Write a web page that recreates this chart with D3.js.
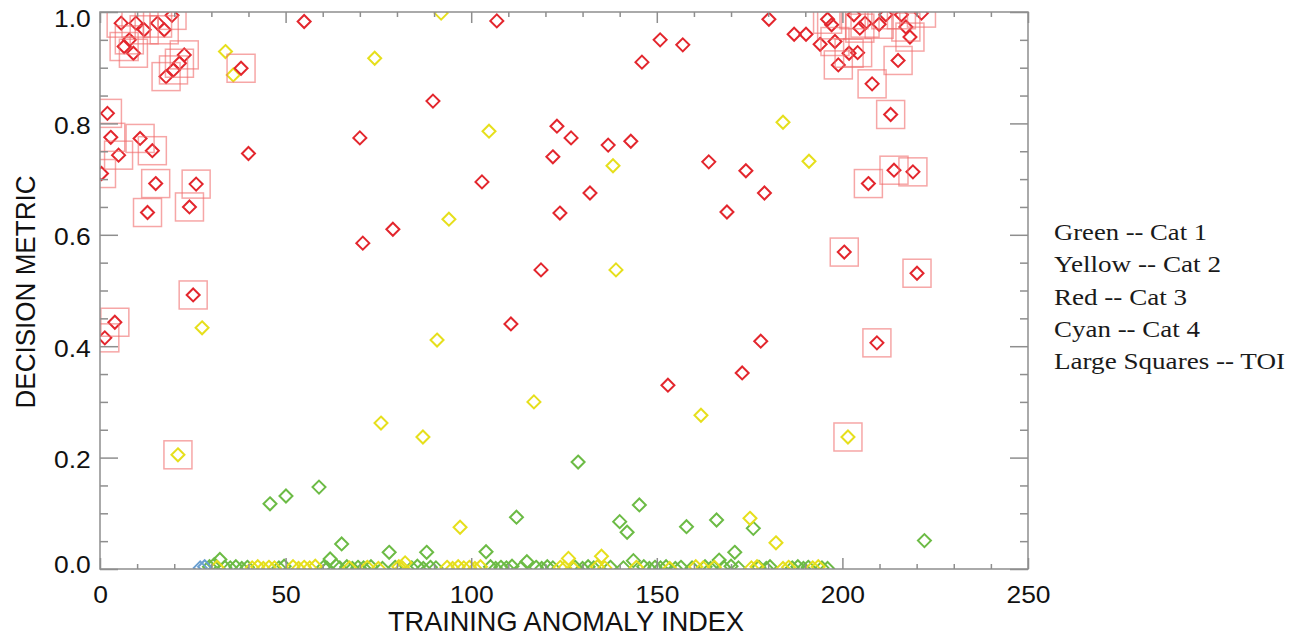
<!DOCTYPE html>
<html>
<head>
<meta charset="utf-8">
<script src="https://cdn.jsdelivr.net/npm/d3@7"></script>
<style>
  body { margin: 0; background: #fff; }
  svg { display: block; }
</style>
</head>
<body>
<svg id="chart" width="1299" height="639"></svg>
<script>
// Decision metric per training anomaly: [index, metric, isTOI]
const cat1Points = [ // Green -- Cat 1
  [32.3,0.017],[45.8,0.117],[50.1,0.131],[59.0,0.147],[62.0,0.018],[65.1,0.045],
  [77.9,0.030],[88.0,0.030],[104.0,0.031],[112.2,0.093],[115.0,0.013],[128.8,0.192],
  [140.0,0.085],[142.0,0.066],[143.7,0.015],[145.3,0.115],[158.0,0.076],[166.1,0.088],
  [166.8,0.016],[171.0,0.030],[176.0,0.073],[222.1,0.051],
  [29.5,0.004],[30.8,0.008],[33.6,0.003],[35.1,0.002],[36.6,0.004],[38.2,0.001],
  [39.7,0.003],[48.2,0.002],[49.6,0.005],[60.2,0.003],[61.2,0.001],[63.6,0.006],
  [64.6,0.002],[66.5,0.004],[68.0,0.001],[69.5,0.003],[71.0,0.002],[73.0,0.004],
  [76.1,0.001],[79.5,0.003],[84.0,0.002],[85.5,0.005],[87.1,0.001],[89.0,0.003],
  [90.5,0.002],[105.2,0.004],[106.6,0.001],[108.0,0.003],[109.5,0.002],[111.0,0.005],
  [113.5,0.002],[117.5,0.003],[119.0,0.001],[120.5,0.004],[122.0,0.002],[128.0,0.003],
  [130.0,0.001],[131.5,0.004],[133.0,0.002],[137.5,0.003],[141.0,0.002],[146.5,0.004],
  [148.0,0.001],[149.5,0.003],[151.0,0.002],[152.5,0.004],[155.0,0.001],[156.5,0.003],
  [159.5,0.002],[163.0,0.004],[164.5,0.001],[168.0,0.003],[170.0,0.005],[172.0,0.002],
  [177.5,0.003],[179.5,0.001],[180.5,0.004],[186.5,0.002],[188.0,0.004],[189.5,0.001],
  [190.8,0.003],[194.5,0.002],[196.0,0.001]
];

const cat2Points = [ // Yellow -- Cat 2
  [21.0,0.205,1],[27.5,0.433],[33.8,0.929],[35.9,0.887],[74.0,0.917],[75.7,0.262],
  [82.2,0.011],[87.0,0.237],[90.8,0.411],[91.9,0.998],[94.0,0.628],[97.0,0.075],
  [104.8,0.786],[116.9,0.300],[126.2,0.019],[135.1,0.023],[138.2,0.724],[139.0,0.537],
  [161.9,0.276],[175.1,0.091],[182.1,0.047],[184.0,0.802],[191.0,0.732],[201.5,0.237,1],
  [31.5,0.003],[41.0,0.002],[42.5,0.004],[44.0,0.001],[45.5,0.003],[47.0,0.002],
  [52.0,0.004],[53.5,0.001],[55.0,0.003],[56.5,0.002],[58.0,0.005],[67.2,0.002],
  [72.0,0.003],[75.0,0.001],[80.5,0.004],[81.5,0.002],[93.5,0.003],[95.0,0.001],
  [96.5,0.004],[98.0,0.002],[99.5,0.003],[101.0,0.001],[102.5,0.004],[124.0,0.003],
  [125.2,0.002],[127.5,0.001],[134.0,0.004],[136.0,0.002],[144.5,0.003],[153.5,0.001],
  [160.5,0.004],[162.5,0.002],[165.5,0.003],[175.5,0.002],[177.0,0.004],[184.0,0.001],
  [185.5,0.003],[192.0,0.002],[193.5,0.004]
];

const cat3Points = [ // Red -- Cat 3
  [0.4,0.710,1],[1.3,0.415,1],[2.0,0.818,1],[2.9,0.775,1],[4.0,0.443,1],[5.0,0.743,1],
  [5.7,0.980,1],[6.5,0.938,1],[7.9,0.950,1],[9.0,0.926,1],[9.7,0.980,1],[10.8,0.773,1],
  [11.9,0.968,1],[12.8,0.640,1],[14.1,0.751,1],[15.0,0.692,1],[15.5,0.980,1],[17.3,0.968,1],
  [17.8,0.884,1],[19.4,0.994,1],[19.8,0.896,1],[21.4,0.908,1],[22.7,0.923,1],[24.1,0.650,1],
  [25.1,0.492,1],[25.9,0.691,1],[38.0,0.899,1],
  [40.0,0.746],[55.0,0.983],[70.0,0.774],[70.8,0.585],[78.9,0.610],[89.7,0.840],
  [102.9,0.695],[106.9,0.984],[110.7,0.440],[118.8,0.537],[122.0,0.740],[123.1,0.795],
  [123.9,0.639],[126.9,0.774],[132.0,0.675],[136.9,0.761],[143.0,0.768],[146.0,0.910],
  [150.9,0.950],[153.0,0.330],[157.0,0.941],[164.0,0.731],[168.9,0.641],[173.0,0.352],
  [174.0,0.715],[178.0,0.409],[179.0,0.675],[180.2,0.987],[187.0,0.960],[190.2,0.960],
  [194.0,0.942],
  [196.0,0.987,1],[197.1,0.977,1],[198.0,0.947,1],[198.9,0.905,1],[200.5,0.569,1],
  [201.8,0.926,1],[203.1,0.995,1],[204.1,0.927,1],[204.7,0.971,1],[206.1,0.980,1],
  [207.0,0.692,1],[208.0,0.871,1],[209.3,0.406,1],[209.9,0.978,1],[211.7,0.995,1],
  [213.0,0.816,1],[213.9,0.716,1],[215.0,0.913,1],[215.9,0.995,1],[217.1,0.973,1],
  [218.2,0.955,1],[219.0,0.713,1],[220.1,0.531,1],[221.3,0.998,1]
];

const cat4Points = [ // Cyan -- Cat 4
  [27.0,0.002],[28.2,0.004]
];

const xMajorTicks = [0, 50, 100, 150, 200, 250];
const yMajorTicks = [0, 0.2, 0.4, 0.6, 0.8, 1.0];
const legendLines = ["Green -- Cat 1", "Yellow -- Cat 2", "Red -- Cat 3", "Cyan -- Cat 4", "Large Squares -- TOI"];

const svg = d3.select("#chart");
const plotL = 100, plotR = 1028, plotT = 12, plotB = 569;
const x = d3.scaleLinear([0, 250], [plotL, plotR]);
const y = d3.scaleLinear([0, 1], [plotB, plotT]);

const AXIS = "#8e8e8e";

svg.append("defs").append("clipPath").attr("id", "plotClip")
  .append("rect").attr("x", plotL).attr("y", plotT)
  .attr("width", plotR - plotL).attr("height", plotB - plotT);

// diamond marker outline
const R = 6.5;
const diamond = (() => {
  const p = d3.path();
  p.moveTo(0, -R); p.lineTo(R, 0); p.lineTo(0, R); p.lineTo(-R, 0); p.closePath();
  return p.toString();
})();

const series = [
  { pts: cat1Points, color: "#6cbb45" },
  { pts: cat2Points, color: "#e6df1c" },
  { pts: cat3Points, color: "#e3262d" },
  { pts: cat4Points, color: "#6a9fd0" }
];

const plot = svg.append("g").attr("clip-path", "url(#plotClip)");

series.forEach(s => {
  plot.append("g").selectAll("path").data(s.pts).join("path")
    .attr("d", diamond)
    .attr("transform", d => `translate(${x(d[0])},${y(d[1])})`)
    .attr("fill", "none")
    .attr("stroke", s.color)
    .attr("stroke-width", 2);
});

// large squares round targets of interest
const toi = series.flatMap(s => s.pts.filter(d => d[2] === 1));
const S = 28;
plot.append("g").selectAll("rect").data(toi).join("rect")
  .attr("x", d => x(d[0]) - S / 2)
  .attr("y", d => y(d[1]) - S / 2)
  .attr("width", S).attr("height", S)
  .attr("fill", "none")
  .attr("stroke", "#f06a6a")
  .attr("stroke-opacity", 0.6)
  .attr("stroke-width", 1.5);

// axes
const xMinor = d3.range(10, 250, 10).filter(v => v % 50 !== 0);
const yMinor = d3.range(1, 20).map(v => v * 0.05).filter((v, i) => (i + 1) % 4 !== 0);

function styleAxis(g) {
  g.select(".domain").remove();
  g.selectAll(".tick line").attr("stroke", AXIS).attr("stroke-width", 1.5);
}

const axes = svg.append("g");

axes.append("g").attr("transform", `translate(0,${plotB})`)
  .call(d3.axisBottom(x).tickValues(xMajorTicks).tickSize(-11).tickFormat(d3.format("d")))
  .call(styleAxis)
  .call(g => g.selectAll("text")
    .attr("y", 34).attr("dy", null)
    .attr("font-family", "Liberation Sans, Arial, sans-serif")
    .attr("font-size", 23).attr("fill", "#111")
    .attr("transform", "scale(1.15,1)"));
axes.append("g").attr("transform", `translate(0,${plotB})`)
  .call(d3.axisBottom(x).tickValues(xMinor).tickSize(-5).tickFormat(""))
  .call(styleAxis);
axes.append("g").attr("transform", `translate(0,${plotT})`)
  .call(d3.axisTop(x).tickValues(xMajorTicks).tickSize(-11).tickFormat(""))
  .call(styleAxis);
axes.append("g").attr("transform", `translate(0,${plotT})`)
  .call(d3.axisTop(x).tickValues(xMinor).tickSize(-5).tickFormat(""))
  .call(styleAxis);

axes.append("g").attr("transform", `translate(${plotL},0)`)
  .call(d3.axisLeft(y).tickValues(yMajorTicks).tickSize(-18).tickFormat(d3.format(".1f")).tickPadding(8))
  .call(styleAxis)
  .call(g => g.selectAll("text")
    .attr("x", -8)
    .attr("y", d => d === 0 ? -6 : (d === 1 ? 5 : 0))
    .attr("dy", "0.43em")
    .attr("font-family", "Liberation Sans, Arial, sans-serif")
    .attr("font-size", 23).attr("fill", "#111")
    .attr("transform", "scale(1.15,1)"));
axes.append("g").attr("transform", `translate(${plotL},0)`)
  .call(d3.axisLeft(y).tickValues(yMinor).tickSize(-8).tickFormat(""))
  .call(styleAxis);
axes.append("g").attr("transform", `translate(${plotR},0)`)
  .call(d3.axisRight(y).tickValues(yMajorTicks).tickSize(-18).tickFormat(""))
  .call(styleAxis);
axes.append("g").attr("transform", `translate(${plotR},0)`)
  .call(d3.axisRight(y).tickValues(yMinor).tickSize(-8).tickFormat(""))
  .call(styleAxis);

// frame
axes.append("rect")
  .attr("x", plotL).attr("y", plotT)
  .attr("width", plotR - plotL).attr("height", plotB - plotT)
  .attr("fill", "none").attr("stroke", AXIS).attr("stroke-width", 1.5);

// axis titles
svg.append("text")
  .attr("x", 566).attr("y", 631)
  .attr("text-anchor", "middle")
  .attr("font-family", "Liberation Sans, Arial, sans-serif")
  .attr("font-size", 27).attr("fill", "#111")
  .attr("textLength", 356).attr("lengthAdjust", "spacingAndGlyphs")
  .text("TRAINING ANOMALY INDEX");

svg.append("text")
  .attr("transform", "translate(35,292) rotate(-90)")
  .attr("text-anchor", "middle")
  .attr("font-family", "Liberation Sans, Arial, sans-serif")
  .attr("font-size", 27).attr("fill", "#111")
  .attr("textLength", 233).attr("lengthAdjust", "spacingAndGlyphs")
  .text("DECISION METRIC");

// legend text
const legendWidths = [153, 167, 133, 146, 231];
svg.append("g").selectAll("text").data(legendLines).join("text")
  .attr("x", 1054)
  .attr("y", (d, i) => 240 + i * 32.3)
  .attr("font-family", "Liberation Serif, Times New Roman, serif")
  .attr("font-size", 23).attr("fill", "#1a1a1a")
  .attr("textLength", (d, i) => legendWidths[i])
  .attr("lengthAdjust", "spacingAndGlyphs")
  .text(d => d);
</script>
</body>
</html>
